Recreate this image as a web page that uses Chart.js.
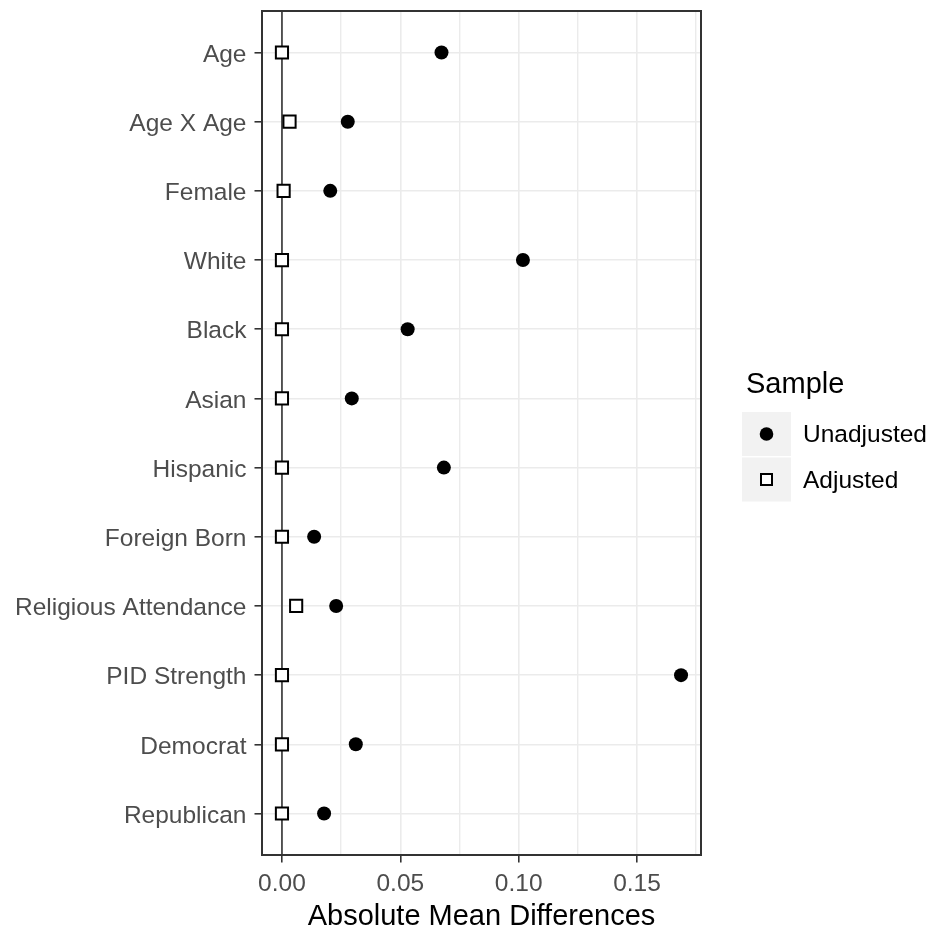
<!DOCTYPE html>
<html>
<head>
<meta charset="utf-8">
<script src="https://cdn.jsdelivr.net/npm/chart.js@4/dist/chart.umd.min.js"></script>
<style>
  html, body { margin: 0; padding: 0; background: #ffffff; }
  #wrap { width: 940px; height: 934px; }
</style>
</head>
<body>
<div id="wrap"><canvas id="c" width="940" height="934"></canvas></div>
<script>
// Covariates, top to bottom
const categories = ['Age', 'Age X Age', 'Female', 'White', 'Black', 'Asian', 'Hispanic',
  'Foreign Born', 'Religious Attendance', 'PID Strength', 'Democrat', 'Republican'];

// Absolute mean differences before and after adjustment
const unadjusted = [0.0674, 0.0278, 0.0204, 0.1018, 0.0531, 0.0295, 0.0684, 0.0136, 0.0229, 0.1686, 0.0312, 0.0178];
const adjusted   = [0.0000, 0.0032, 0.0007, 0.0000, 0.0000, 0.0000, 0.0000, 0.0000, 0.0060, 0.0000, 0.0000, 0.0000];

// Axis breaks
const majorTicks = [0, 0.05, 0.10, 0.15];
const minorTicks = [0.025, 0.075, 0.125, 0.175];
const xTickLabels = ['0.00', '0.05', '0.10', '0.15'];

const legendTitle = 'Sample';
const seriesNames = ['Unadjusted', 'Adjusted'];
const xTitle = 'Absolute Mean Differences';

const FONT = "'Liberation Sans', Arial, sans-serif";

// x limits padded by 5% of the data range, y padded by 0.6 of a category
const dataMax = Math.max(...unadjusted, ...adjusted);
const dataMin = Math.min(0, ...unadjusted, ...adjusted);
const xPad = (dataMax - dataMin) * 0.05;

const isMajor = v => majorTicks.some(m => Math.abs(m - v) < 1e-9);

// Zero reference line, panel border and legend
const decorations = {
  id: 'decorations',
  beforeDatasetsDraw(chart) {
    const { ctx, chartArea, scales } = chart;
    const x0 = scales.x.getPixelForValue(0);
    ctx.save();
    ctx.strokeStyle = '#333333';
    ctx.lineWidth = 1.6;
    ctx.beginPath();
    ctx.moveTo(x0, chartArea.top);
    ctx.lineTo(x0, chartArea.bottom);
    ctx.stroke();
    ctx.restore();
  },
  afterDatasetsDraw(chart) {
    const { ctx, chartArea } = chart;
    ctx.save();
    ctx.strokeStyle = '#333333';
    ctx.lineWidth = 2;
    ctx.strokeRect(chartArea.left, chartArea.top,
      chartArea.right - chartArea.left, chartArea.bottom - chartArea.top);

    // legend
    const lx = 746;
    ctx.fillStyle = '#000000';
    ctx.font = '29px ' + FONT;
    ctx.textAlign = 'left';
    ctx.textBaseline = 'alphabetic';
    ctx.fillText(legendTitle, lx, 393);

    const keyW = 49, keyH = 44, keyTop = 412;
    const ds = chart.data.datasets;
    seriesNames.forEach((name, i) => {
      const ky = keyTop + i * (keyH + 1.5);
      const kx = lx - 4;
      ctx.fillStyle = '#F2F2F2';
      ctx.fillRect(kx, ky, keyW, keyH);
      const cx = kx + keyW / 2, cy = ky + keyH / 2;
      ctx.fillStyle = ds[i].pointBackgroundColor;
      ctx.strokeStyle = ds[i].pointBorderColor;
      ctx.lineWidth = ds[i].pointBorderWidth;
      ctx.beginPath();
      if (ds[i].pointStyle === 'circle') {
        ctx.arc(cx, cy, 6.8, 0, Math.PI * 2);
      } else {
        const s = 5.5;
        ctx.rect(cx - s, cy - s, 2 * s, 2 * s);
      }
      ctx.fill();
      if (ds[i].pointBorderWidth > 0) ctx.stroke();
      ctx.fillStyle = '#000000';
      ctx.font = '24.5px ' + FONT;
      ctx.textBaseline = 'middle';
      ctx.fillText(name, 803, cy + 1.5);
    });
    ctx.restore();
  }
};

new Chart(document.getElementById('c'), {
  type: 'scatter',
  data: {
    datasets: [
      {
        label: seriesNames[0],
        data: unadjusted.map((v, i) => ({ x: v, y: i })),
        pointStyle: 'circle',
        pointRadius: 7,
        pointHoverRadius: 7,
        pointBackgroundColor: '#000000',
        pointBorderColor: '#000000',
        pointBorderWidth: 0
      },
      {
        label: seriesNames[1],
        data: adjusted.map((v, i) => ({ x: v, y: i })),
        pointStyle: 'rect',
        pointRadius: 8.6,
        pointHoverRadius: 8.6,
        pointBackgroundColor: '#ffffff',
        pointBorderColor: '#000000',
        pointBorderWidth: 2
      }
    ]
  },
  options: {
    responsive: false,
    animation: false,
    events: [],
    layout: { padding: { left: 0, right: 239, top: 11, bottom: 0 } },
    plugins: { legend: { display: false }, tooltip: { enabled: false } },
    scales: {
      x: {
        type: 'linear',
        min: dataMin - xPad,
        max: dataMax + xPad,
        afterBuildTicks(scale) {
          scale.ticks = [...majorTicks, ...minorTicks].sort((a, b) => a - b).map(v => ({ value: v }));
        },
        afterFit(scale) {
          scale.height = 79;
          scale.paddingLeft = 0;
          scale.paddingRight = 0;
        },
        ticks: {
          autoSkip: false,
          maxRotation: 0,
          padding: 7,
          color: '#4D4D4D',
          font: { family: FONT, size: 24.5 },
          callback(value) {
            const k = majorTicks.findIndex(m => Math.abs(m - value) < 1e-9);
            return k >= 0 ? xTickLabels[k] : '';
          }
        },
        grid: {
          color: '#EBEBEB',
          lineWidth: ctx => (ctx.tick && isMajor(ctx.tick.value)) ? 1.6 : 1.4,
          tickLength: 7.5,
          tickColor: ctx => (ctx.tick && isMajor(ctx.tick.value)) ? '#333333' : 'rgba(0,0,0,0)',
          tickWidth: 1.6
        },
        border: { display: false },
        title: {
          display: true,
          text: xTitle,
          color: '#000000',
          font: { family: FONT, size: 29 },
          padding: { top: 0, bottom: 0 }
        }
      },
      y: {
        type: 'linear',
        reverse: true,
        min: -0.6,
        max: categories.length - 1 + 0.6,
        afterBuildTicks(scale) {
          scale.ticks = categories.map((c, i) => ({ value: i }));
        },
        afterFit(scale) {
          scale.width = 262;
          scale.paddingTop = 0;
          scale.paddingBottom = 0;
        },
        ticks: {
          autoSkip: false,
          padding: 8,
          labelOffset: 2.5,
          color: '#4D4D4D',
          font: { family: FONT, size: 24.5 },
          callback(value) { return categories[value]; }
        },
        grid: {
          color: '#EBEBEB',
          lineWidth: 1.6,
          tickLength: 7.5,
          tickColor: '#333333',
          tickWidth: 1.6
        },
        border: { display: false }
      }
    }
  },
  plugins: [decorations]
});
</script>
</body>
</html>
